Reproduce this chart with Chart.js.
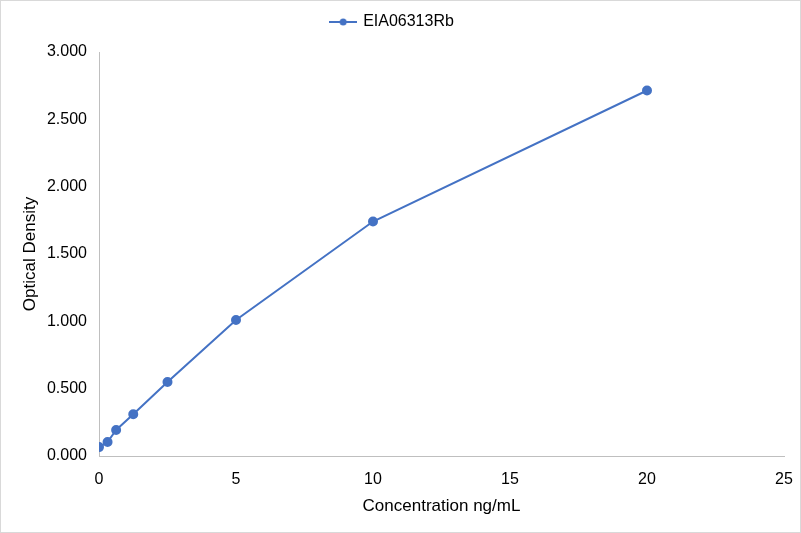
<!DOCTYPE html>
<html>
<head>
<meta charset="utf-8">
<script src="https://cdn.jsdelivr.net/npm/chart.js@4"></script>
<style>
  body { margin: 0; background: #fff; }
  #wrap { width: 801px; height: 533px; box-sizing: border-box; border: 1px solid #d9d9d9; }
</style>
</head>
<body>
<div id="wrap"><canvas id="myChart" width="799" height="531"></canvas></div>
<script>
// standard curve values
const seriesName = 'EIA06313Rb';
const concentration = [0, 0.3125, 0.625, 1.25, 2.5, 5, 10, 20];
const opticalDensity = [0.066, 0.104, 0.193, 0.310, 0.549, 1.010, 1.741, 2.714];
const xTicks = [0, 5, 10, 15, 20, 25];
const yTicks = [0, 0.5, 1, 1.5, 2, 2.5, 3];

const blue = '#4472C4';
const font = 'Liberation Sans, Arial, sans-serif';

// little line + dot for the legend, like the excel one
const legendIcon = document.createElement('canvas');
legendIcon.width = 28;
legendIcon.height = 10;
let lc = legendIcon.getContext('2d');
lc.strokeStyle = blue;
lc.lineWidth = 2;
lc.beginPath();
lc.moveTo(0, 5);
lc.lineTo(28, 5);
lc.stroke();
lc.fillStyle = blue;
lc.beginPath();
lc.arc(14, 5, 3.5, 0, Math.PI * 2);
lc.fill();

// leave some extra room under the legend
const legendGap = {
    id: 'legendGap',
    beforeLayout(chart) {
        const lg = chart.legend;
        if (!lg || lg._gapped) return;
        const fit = lg.fit;
        lg.fit = function () { fit.call(this); this.height += 12; };
        lg._gapped = true;
    }
};

let myChart = document.getElementById('myChart').getContext('2d');

let curveChart = new Chart(myChart, {
    type: 'scatter',
    data: {
        datasets: [{
            label: seriesName,
            data: concentration.map((c, i) => ({ x: c, y: opticalDensity[i] })),
            showLine: true,
            borderColor: blue,
            backgroundColor: blue,
            borderWidth: 2,
            pointRadius: 4,
            pointHoverRadius: 4,
            pointStyle: 'circle',
            tension: 0
        }]
    },
    plugins: [legendGap],
    options: {
        responsive: false,
        animation: false,
        layout: { padding: { left: 0, right: 16, top: 3, bottom: 0 } },
        plugins: {
            tooltip: { enabled: false },
            legend: {
                position: 'top',
                labels: {
                    usePointStyle: true,
                    pointStyleWidth: 24,
                    color: '#000',
                    font: { family: font, size: 16 },
                    padding: 10,
                    generateLabels: (chart) => chart.data.datasets.map((ds, i) => ({
                        text: ds.label,
                        pointStyle: legendIcon,
                        fillStyle: blue,
                        strokeStyle: blue,
                        fontColor: '#000',
                        datasetIndex: i
                    }))
                }
            }
        },
        scales: {
            x: {
                type: 'linear',
                min: 0,
                max: 25,
                afterBuildTicks: (axis) => { axis.ticks = xTicks.map(v => ({ value: v })); },
                afterFit: (axis) => { axis.height = 76; },
                grid: { display: false },
                border: { display: true, color: '#bfbfbf', width: 1 },
                ticks: { color: '#000', font: { family: font, size: 16 }, padding: 6 },
                title: {
                    display: true,
                    text: 'Concentration ng/mL',
                    color: '#000',
                    font: { family: font, size: 17 },
                    padding: { top: 0, bottom: 15 }
                }
            },
            y: {
                type: 'linear',
                min: 0,
                max: 3,
                afterBuildTicks: (axis) => { axis.ticks = yTicks.map(v => ({ value: v })); },
                afterFit: (axis) => { axis.width = 98; },
                grid: { display: false },
                border: { display: true, color: '#bfbfbf', width: 1 },
                ticks: {
                    color: '#000',
                    font: { family: font, size: 16 },
                    padding: 4,
                    callback: (v) => Number(v).toFixed(3)
                },
                title: {
                    display: true,
                    text: 'Optical Density',
                    color: '#000',
                    font: { family: font, size: 17 },
                    padding: { top: 19, bottom: 0 }
                }
            }
        }
    }
});
</script>
</body>
</html>
